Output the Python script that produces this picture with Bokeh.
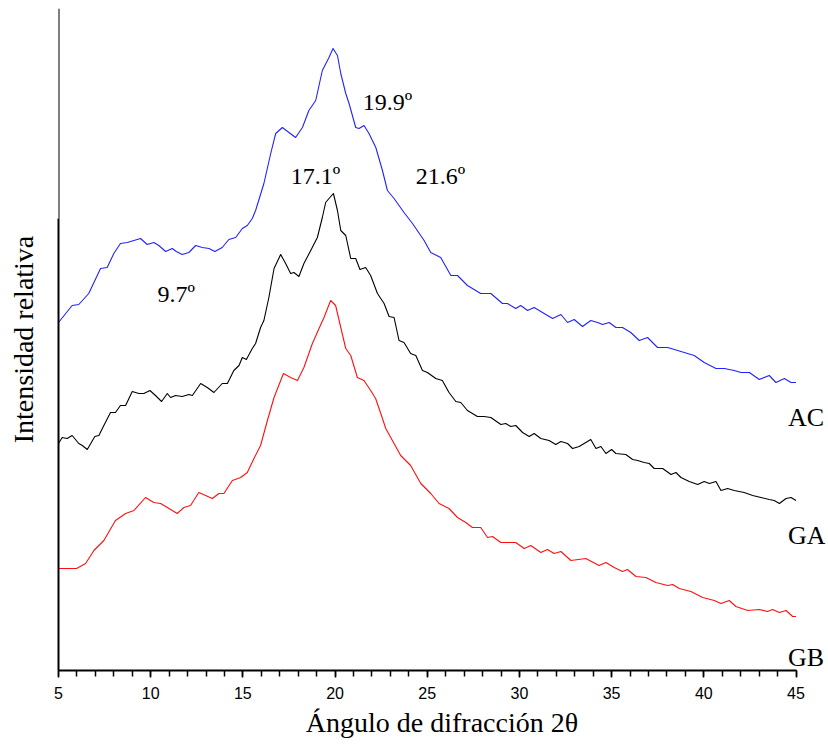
from bokeh.plotting import figure
from bokeh.models import Range1d, FixedTicker, Label
from bokeh.embed import file_html
from bokeh.resources import INLINE

# Diffraction angle 2-theta (degrees) and relative intensity (arbitrary units, stacked)
ac_x = [5.00, 5.74, 6.10, 6.64, 7.28, 7.64, 8.00, 8.36, 8.73, 9.09, 9.45, 9.81, 10.17, 10.44,
        10.81, 11.17, 11.39, 11.71, 12.07, 12.44, 12.80, 13.16, 13.48, 13.88, 14.24, 14.61,
        14.97, 15.24, 15.51, 15.69, 16.14, 16.51, 16.78, 17.14, 17.50, 17.86, 18.23, 18.58,
        18.95, 19.31, 19.67, 19.89, 20.13, 20.31, 20.58, 20.76, 21.12, 21.30, 21.57, 21.84,
        22.21, 22.57, 22.84, 23.20, 23.74, 24.20, 24.83, 25.19, 25.73, 26.28, 26.64, 27.18,
        27.90, 28.45, 29.08, 29.35, 29.80, 30.07, 30.44, 30.80, 31.34, 31.80, 32.25, 32.61,
        32.97, 33.42, 33.87, 34.24, 34.51, 34.87, 35.23, 35.59, 36.04, 36.50, 36.95, 37.49,
        38.04, 38.58, 39.12, 39.48, 40.02, 40.66, 41.11, 41.65, 42.01, 42.47, 43.01, 43.55,
        43.91, 44.37, 44.73, 45.00]
ac_y = [348, 365, 366, 377, 402, 403, 417, 427, 428, 430, 432, 426, 428, 425,
        419, 422, 419, 416, 418, 425, 423, 422, 419, 423, 431, 433,
        442, 445, 452, 460, 487, 517, 537, 543, 538, 533, 543, 560,
        570, 600, 613, 622, 615, 597, 577, 567, 543, 542, 545, 537,
        523, 500, 480, 472, 458, 447, 430, 418, 413, 395, 395, 385,
        377, 377, 367, 367, 362, 365, 360, 363, 357, 352, 356, 348,
        351, 344, 350, 348, 346, 348, 343, 343, 338, 330, 333, 323,
        323, 320, 317, 315, 308, 302, 302, 300, 298, 298, 291, 295,
        288, 292, 288, 288]

ga_x = [5.00, 5.20, 5.47, 5.74, 6.10, 6.29, 6.56, 6.97, 7.19, 7.46, 7.82, 8.09, 8.36, 8.64,
        9.00, 9.36, 9.63, 9.96, 10.26, 10.59, 10.90, 11.08, 11.35, 11.71, 12.07, 12.26,
        12.71, 13.07, 13.43, 13.88, 14.16, 14.51, 14.79, 14.97, 15.19, 15.51, 15.69, 15.96,
        16.14, 16.41, 16.69, 17.05, 17.32, 17.59, 17.77, 18.04, 18.31, 18.68, 19.04, 19.31,
        19.49, 19.67, 19.91, 20.13, 20.31, 20.58, 20.85, 21.12, 21.35, 21.66, 21.93, 22.30,
        22.66, 22.93, 23.20, 23.47, 23.74, 24.10, 24.38, 24.74, 25.01, 25.46, 25.82, 26.18,
        26.55, 26.82, 27.18, 27.72, 28.08, 28.45, 28.99, 29.26, 29.53, 29.80, 30.17, 30.53,
        30.80, 31.16, 31.61, 31.97, 32.25, 32.61, 32.88, 33.24, 33.51, 33.87, 34.15, 34.42,
        34.69, 35.00, 35.23, 35.77, 36.14, 36.41, 36.77, 37.04, 37.31, 37.77, 38.22, 38.49,
        38.76, 39.21, 39.67, 40.02, 40.30, 40.66, 40.93, 41.29, 41.65, 42.19, 42.65, 43.10,
        43.55, 43.82, 44.10, 44.46, 44.73, 45.00]
ga_y = [227, 233, 232, 235, 227, 225, 221, 234, 235, 245, 258, 258, 265, 265,
        279, 277, 277, 280, 275, 269, 277, 273, 275, 274, 276, 275,
        287, 283, 278, 287, 287, 300, 305, 313, 311, 322, 327, 343,
        350, 373, 402, 416, 407, 397, 398, 394, 407, 420, 433, 453,
        468, 472, 477, 460, 440, 435, 412, 412, 401, 403, 395, 377,
        367, 354, 353, 330, 328, 317, 315, 300, 298, 292, 290, 278,
        269, 268, 260, 254, 254, 253, 246, 247, 244, 245, 238, 234,
        237, 232, 230, 226, 229, 227, 222, 224, 227, 231, 222, 224,
        217, 221, 217, 216, 211, 210, 208, 207, 202, 202, 196, 198,
        193, 189, 186, 189, 187, 189, 180, 182, 180, 178, 175, 173,
        171, 170, 167, 172, 173, 170]

gb_x = [5.00, 5.98, 6.47, 6.92, 7.46, 8.09, 8.64, 9.09, 9.72, 10.17, 10.54, 10.99, 11.44,
        11.80, 12.16, 12.61, 12.98, 13.34, 13.70, 13.97, 14.43, 14.88, 15.24, 15.60, 15.96,
        16.33, 16.69, 17.20, 17.59, 17.96, 18.31, 18.77, 19.13, 19.40, 19.76, 20.03, 20.31,
        20.58, 20.85, 21.21, 21.57, 21.93, 22.20, 22.48, 22.75, 23.56, 24.10, 24.65, 25.19,
        25.64, 26.18, 26.64, 27.09, 27.45, 27.90, 28.27, 28.54, 28.99, 29.80, 30.26, 30.62,
        31.16, 31.52, 31.88, 32.25, 32.79, 33.60, 34.32, 34.69, 35.14, 35.59, 35.86, 36.32,
        36.86, 37.40, 38.04, 38.31, 38.67, 39.30, 39.94, 40.57, 40.93, 41.38, 41.74, 42.38,
        43.01, 43.46, 43.73, 44.10, 44.46, 44.82, 45.00]
gb_y = [102, 102, 107, 120, 130, 150, 157, 160, 173, 168, 167, 162, 157,
        163, 165, 178, 175, 172, 177, 177, 190, 193, 198, 212, 225,
        250, 273, 297, 293, 290, 303, 327, 342, 353, 370, 365, 343,
        322, 315, 293, 290, 280, 272, 257, 242, 215, 205, 187, 177,
        167, 162, 153, 148, 143, 143, 133, 134, 128, 128, 122, 125,
        118, 121, 117, 119, 110, 112, 105, 108, 103, 99, 101, 94,
        93, 88, 85, 86, 82, 79, 73, 70, 67, 70, 64, 60,
        61, 59, 61, 58, 60, 54, 54]

x_ticks = [5, 10, 15, 20, 25, 30, 35, 40, 45]
x_minor = list(range(5, 46))

peak_labels = ["19.9º", "17.1º", "21.6º", "9.7º"]
peak_lx = [21.50, 17.59, 24.38, 10.37]
peak_ly = [569, 495, 495, 377]

series_labels = ["AC", "GA", "GB"]
series_lx = [44.57, 44.57, 44.57]
series_ly = [253, 135, 13]

SERIF = "Liberation Serif"
SANS = "Liberation Sans"

p = figure(width=828, height=747, output_backend="svg", toolbar_location=None,
           x_range=Range1d(5, 46.6), y_range=Range1d(0, 662),
           min_border_left=58, min_border_right=3, min_border_top=8, min_border_bottom=77)
p.outline_line_color = None
p.xgrid.visible = False
p.ygrid.visible = False
p.background_fill_color = "white"
p.border_fill_color = "white"

p.line(ac_x, ac_y, line_color="#2222ff", line_width=1.1, line_join="round")
p.line(ga_x, ga_y, line_color="black", line_width=1.1, line_join="round")
p.line(gb_x, gb_y, line_color="#ff1010", line_width=1.1, line_join="round")

# x axis
xa = p.xaxis[0]
xa.ticker = FixedTicker(ticks=x_ticks, minor_ticks=x_minor)
xa.bounds = (5, 45)
xa.axis_line_width = 2
xa.axis_line_color = "black"
xa.major_tick_line_color = "black"
xa.minor_tick_line_color = "black"
xa.major_tick_line_width = 1.5
xa.minor_tick_line_width = 1.5
xa.major_tick_out = 7
xa.major_tick_in = 0
xa.minor_tick_out = 6
xa.minor_tick_in = 0
xa.major_label_text_font = SANS
xa.major_label_text_font_size = "16px"
xa.major_label_text_color = "black"
xa.major_label_standoff = 9
xa.axis_label = "Ángulo de difracción 2θ"
xa.axis_label_text_font = SERIF
xa.axis_label_text_font_size = "28px"
xa.axis_label_text_font_style = "normal"
xa.axis_label_text_color = "black"
xa.axis_label_standoff = 5

# y axis: no ticks, thicker lower part
ya = p.yaxis[0]
ya.ticker = FixedTicker(ticks=[])
ya.axis_line_width = 2
ya.axis_line_color = "black"
ya.bounds = (0, 452)
ya.major_tick_line_color = None
ya.minor_tick_line_color = None
ya.major_label_text_alpha = 0
ya.axis_label = "Intensidad relativa"
ya.axis_label_text_font = SERIF
ya.axis_label_text_font_size = "28px"
ya.axis_label_text_font_style = "normal"
ya.axis_label_text_color = "black"
ya.axis_label_standoff = 20
p.segment(x0=[5], y0=[452], x1=[5], y1=[662], line_color="black", line_width=2)

for t, lx, ly in zip(peak_labels, peak_lx, peak_ly):
    p.add_layout(Label(x=lx, y=ly, text=t, text_align="left", text_baseline="alphabetic",
                       text_font=SERIF, text_font_size="24px", text_color="black"))
for t, lx, ly in zip(series_labels, series_lx, series_ly):
    p.add_layout(Label(x=lx, y=ly, text=t, text_align="left", text_baseline="alphabetic",
                       text_font=SERIF, text_font_size="26px", text_color="black"))

open("out.html", "w").write(file_html(p, INLINE))
